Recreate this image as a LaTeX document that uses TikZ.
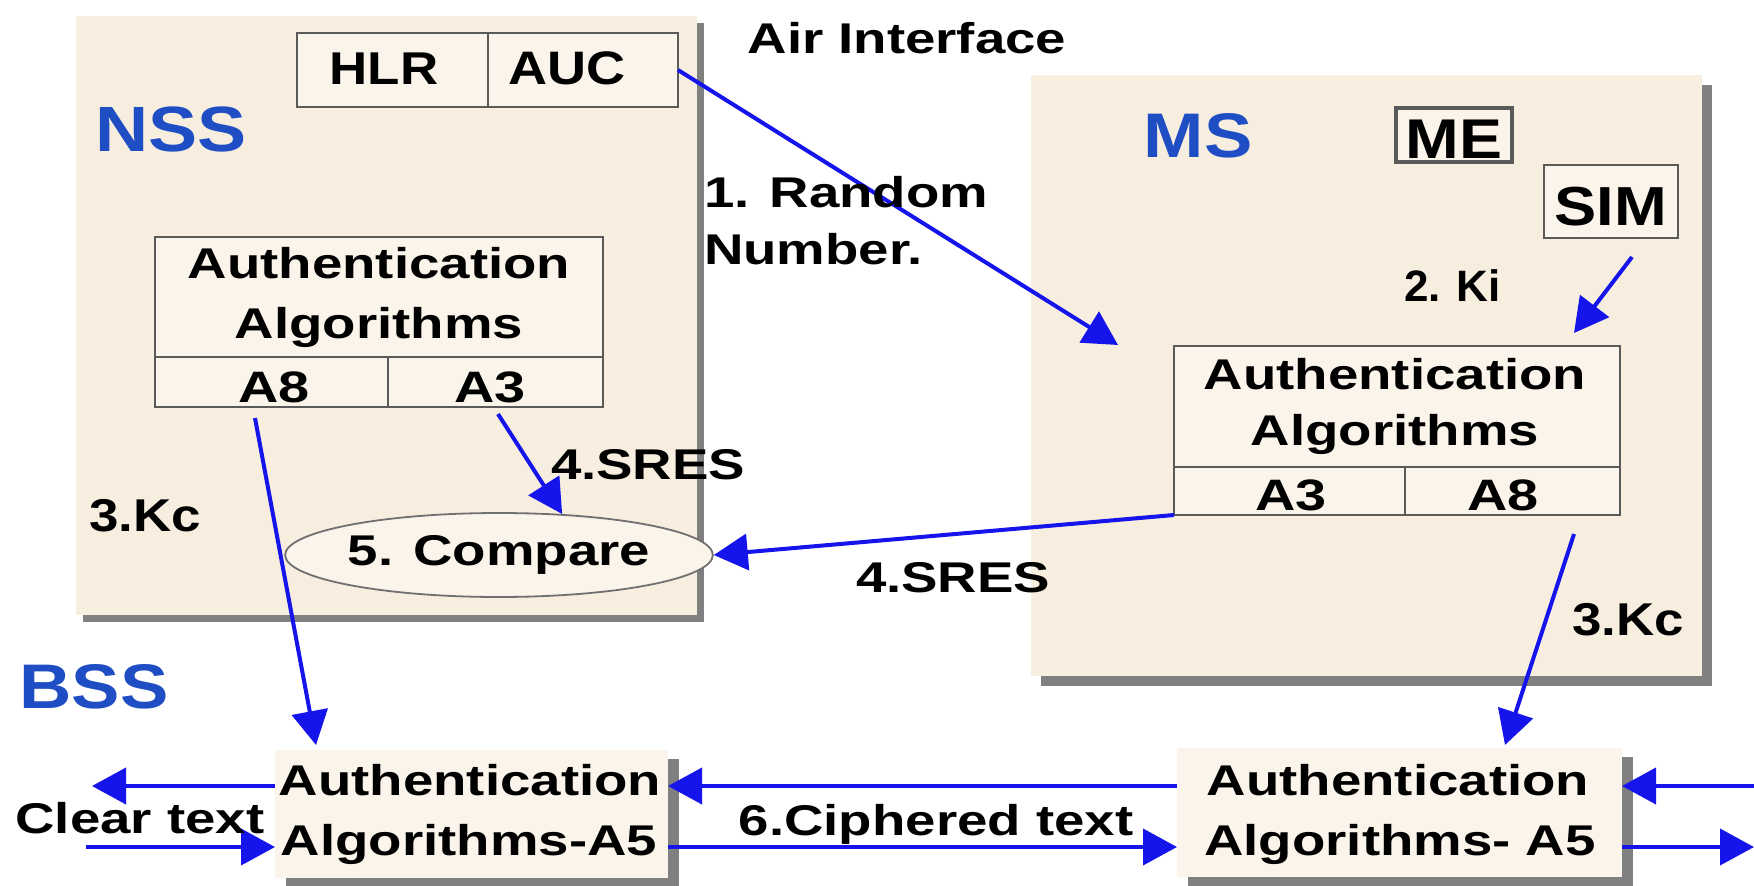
\documentclass[tikz,border=0pt]{standalone}
\usepackage{fontspec}
\setmainfont{Liberation Sans}
\newfontfamily\fW[FakeStretch=1.27]{Liberation Sans}
\newfontfamily\fM[FakeStretch=1.15]{Liberation Sans}
\newfontfamily\fN[FakeStretch=1.0]{Liberation Sans}
\usetikzlibrary{arrows.meta,shapes.geometric,shadows,calc}
\definecolor{panel}{HTML}{F7EEE0}
\definecolor{inner}{HTML}{FAF4EA}
\definecolor{bordr}{HTML}{5A5A5A}
\definecolor{ellgray}{HTML}{707070}
\definecolor{shad}{HTML}{808080}
\definecolor{arrblue}{HTML}{1414EB}
\definecolor{titleblue}{HTML}{1F4EC4}
\begin{document}
\begin{tikzpicture}[x=1pt,y=-1pt,
  wt/.style={font=\fW\bfseries\fontsize{#1}{#1}\selectfont},
  mt/.style={font=\fM\bfseries\fontsize{#1}{#1}\selectfont},
  nt/.style={font=\fN\bfseries\fontsize{#1}{#1}\selectfont},
  lbl/.style={inner sep=0pt, outer sep=0pt, anchor=base},
  lblw/.style={inner sep=0pt, outer sep=0pt, anchor=base west},
  panelbox/.style={rectangle, fill=panel, inner sep=0pt, outer sep=0pt,
    drop shadow={shadow xshift=#1, shadow yshift=-#1, fill=shad, opacity=1}},
  a5box/.style={rectangle, fill=inner, inner sep=0pt, outer sep=0pt,
    drop shadow={shadow xshift=11pt, shadow yshift=-9pt, fill=shad, opacity=1}},
  cell/.style={rectangle, draw=bordr, line width=2.5pt, fill=inner, inner sep=0pt, outer sep=0pt},
  arr/.style={draw=arrblue, line width=4pt, -{Triangle[length=34pt,width=36pt]}}
]
\fill[white] (0,0) rectangle (1754,886);
\useasboundingbox (0,0) rectangle (1754,886);

% panels
\node[panelbox=7pt, minimum width=621pt, minimum height=599pt] (nss) at (386.5,315.5) {};
\node[panelbox=10pt, minimum width=671pt, minimum height=601pt] (ms) at (1366.5,375.5) {};
\node[a5box, minimum width=393pt, minimum height=128pt] (a5L) at (471.5,814) {};
\node[a5box, minimum width=445pt, minimum height=129pt] (a5R) at (1399.5,812.5) {};

% inner boxes
\node[cell, minimum width=191pt, minimum height=74pt] (hlr) at (392.5,70) {};
\node[cell, minimum width=190pt, minimum height=74pt] (auc) at (583,70) {};
\node[cell, minimum width=448pt, minimum height=120pt] (nssAuth) at (379,297) {};
\node[cell, minimum width=233pt, minimum height=50pt] (nssA8) at (271.5,382) {};
\node[cell, minimum width=215pt, minimum height=50pt] (nssA3) at (495.5,382) {};
\node[cell, minimum width=446pt, minimum height=121pt] (msAuth) at (1397,406.5) {};
\node[cell, minimum width=231pt, minimum height=48pt] (msA3) at (1289.5,491) {};
\node[cell, minimum width=215pt, minimum height=48pt] (msA8) at (1512.5,491) {};
\node[cell, line width=3.5pt, minimum width=116pt, minimum height=54pt] (me) at (1454,135) {};
\node[cell, minimum width=134pt, minimum height=73pt] (sim) at (1611,201.5) {};
\node[ellipse, draw=ellgray, line width=1.8pt, fill=inner, minimum width=398pt,
      minimum height=84pt, inner sep=0pt, wt=43] (cmp) at (499,555) {5. Compare};

% connectors
\coordinate (rndTip) at (1118,345);
\draw[arr] (auc.east) -- (rndTip);
\coordinate (kiS) at (1632,257);
\coordinate (kiT) at (1574,333);
\draw[arr] (kiS) -- (kiT);
\coordinate (sresS) at (498,414);
\draw[arr] (sresS) -- (cmp.33);
\draw[arr] (msA3.south west) -- (cmp.east);
\coordinate (kcLS) at (255,418);
\coordinate (kcLT) at (316,745);
\draw[arr] (kcLS) -- (kcLT);
\coordinate (kcRS) at (1574,534);
\coordinate (kcRT) at (1505,745);
\draw[arr] (kcRS) -- (kcRT);

\coordinate (clrU) at (92,786);
\coordinate (clrD) at (86,847);
\coordinate (outU) at (1754,786);
\coordinate (outD) at (1754,847);
\draw[arr] (a5L.west |- clrU) -- (clrU);
\draw[arr] (clrD) -- (a5L.west |- clrD);
\draw[arr] (a5R.west |- clrU) -- (a5L.east |- clrU);
\draw[arr] (a5L.east |- clrD) -- (a5R.west |- clrD);
\draw[arr] (outU) -- (a5R.east |- outU);
\draw[arr] (a5R.east |- outD) -- (outD);

% texts
\node[lbl, mt=64, text=titleblue] (tNSS) at (171,151) {NSS};
\node[lbl, mt=63, text=titleblue] (tMS) at (1198,157) {MS};
\node[lbl, mt=63, text=titleblue] (tBSS) at (94,708) {BSS};
\node[lbl, wt=43] (tAir) at (907,53) {Air Interface};
\node[lblw, wt=43] (tRnd1) at (704,207) {1. Random};
\node[lblw, wt=43] (tRnd2) at (704,264) {Number.};
\node[lbl, mt=46] (tHLR) at (384,84) {HLR};
\node[lbl, mt=47] (tAUC) at (567,84) {AUC};
\node[lbl, wt=43] (tNa1) at (379,278) {Authentication};
\node[lbl, wt=43] (tNa2) at (379,338) {Algorithms};
\node[lbl, wt=44] (tNA8) at (274,402) {A8};
\node[lbl, wt=44] (tNA3) at (490,402) {A3};
\node[lbl, wt=43] (tMa1) at (1395,389) {Authentication};
\node[lbl, wt=43] (tMa2) at (1395,445) {Algorithms};
\node[lbl, wt=44] (tMA3) at (1291,510) {A3};
\node[lbl, wt=44] (tMA8) at (1503,510) {A8};
\node[lbl, mt=56] (tME) at (1454,158) {ME};
\node[lbl, mt=55] (tSIM) at (1611,225) {SIM};
\node[lblw, nt=44] (tKi) at (1404,301) {2. Ki};
\node[lblw, wt=43] (tSres1) at (551,479) {4.SRES};
\node[lblw, wt=43] (tSres2) at (856,592) {4.SRES};
\node[lblw, mt=46] (tKc1) at (89,531) {3.Kc};
\node[lblw, mt=46] (tKc2) at (1572,635) {3.Kc};
\node[lbl, wt=43] (tClr) at (140,833) {Clear text};
\node[lbl, wt=43] (tCiph) at (936,835) {6.Ciphered text};
\node[lbl, wt=43] (tL1) at (470,795) {Authentication};
\node[lbl, wt=43] (tL2) at (469,855) {Algorithms-A5};
\node[lbl, wt=43] (tR1) at (1398,795) {Authentication};
\node[lbl, wt=43] (tR2) at (1400,855) {Algorithms- A5};
\end{tikzpicture}
\end{document}
